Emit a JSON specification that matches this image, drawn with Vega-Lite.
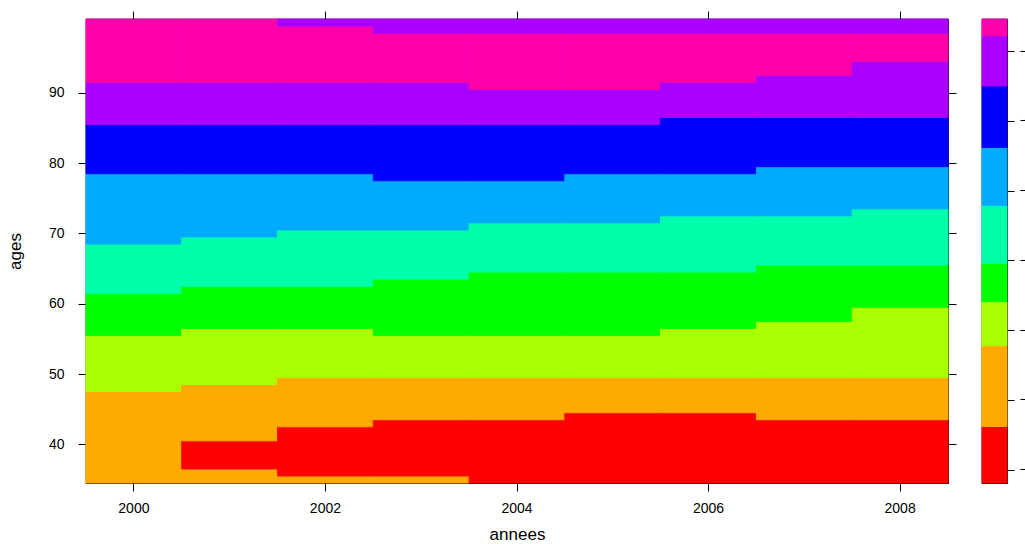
{
  "$schema": "https://vega.github.io/schema/vega-lite/v6.json",
  "padding": {"left": 5, "top": 9, "right": 0, "bottom": 0},
  "background": "white",
  "config": {
    "view": {"stroke": "#000000", "strokeWidth": 1.2},
    "axis": {
      "domain": false,
      "tickColor": "#000000",
      "tickSize": 8,
      "tickWidth": 1,
      "labelColor": "#000000",
      "labelFont": "Liberation Sans",
      "labelFontSize": 14,
      "titleFont": "Liberation Sans",
      "titleFontSize": 17,
      "titleFontWeight": "normal",
      "titleColor": "#000000",
      "grid": false
    }
  },
  "datasets": {
    "bandes": [
      {"annee": 2000, "age_debut": 34.5, "age_fin": 47.5, "niveau": 2},
      {"annee": 2000, "age_debut": 47.5, "age_fin": 55.5, "niveau": 3},
      {"annee": 2000, "age_debut": 55.5, "age_fin": 61.5, "niveau": 4},
      {"annee": 2000, "age_debut": 61.5, "age_fin": 68.5, "niveau": 5},
      {"annee": 2000, "age_debut": 68.5, "age_fin": 78.5, "niveau": 6},
      {"annee": 2000, "age_debut": 78.5, "age_fin": 85.5, "niveau": 7},
      {"annee": 2000, "age_debut": 85.5, "age_fin": 91.5, "niveau": 8},
      {"annee": 2000, "age_debut": 91.5, "age_fin": 100.5, "niveau": 9},

      {"annee": 2001, "age_debut": 34.5, "age_fin": 36.5, "niveau": 2},
      {"annee": 2001, "age_debut": 36.5, "age_fin": 40.5, "niveau": 1},
      {"annee": 2001, "age_debut": 40.5, "age_fin": 48.5, "niveau": 2},
      {"annee": 2001, "age_debut": 48.5, "age_fin": 56.5, "niveau": 3},
      {"annee": 2001, "age_debut": 56.5, "age_fin": 62.5, "niveau": 4},
      {"annee": 2001, "age_debut": 62.5, "age_fin": 69.5, "niveau": 5},
      {"annee": 2001, "age_debut": 69.5, "age_fin": 78.5, "niveau": 6},
      {"annee": 2001, "age_debut": 78.5, "age_fin": 85.5, "niveau": 7},
      {"annee": 2001, "age_debut": 85.5, "age_fin": 91.5, "niveau": 8},
      {"annee": 2001, "age_debut": 91.5, "age_fin": 100.5, "niveau": 9},

      {"annee": 2002, "age_debut": 34.5, "age_fin": 35.5, "niveau": 2},
      {"annee": 2002, "age_debut": 35.5, "age_fin": 42.5, "niveau": 1},
      {"annee": 2002, "age_debut": 42.5, "age_fin": 49.5, "niveau": 2},
      {"annee": 2002, "age_debut": 49.5, "age_fin": 56.5, "niveau": 3},
      {"annee": 2002, "age_debut": 56.5, "age_fin": 62.5, "niveau": 4},
      {"annee": 2002, "age_debut": 62.5, "age_fin": 70.5, "niveau": 5},
      {"annee": 2002, "age_debut": 70.5, "age_fin": 78.5, "niveau": 6},
      {"annee": 2002, "age_debut": 78.5, "age_fin": 85.5, "niveau": 7},
      {"annee": 2002, "age_debut": 85.5, "age_fin": 91.5, "niveau": 8},
      {"annee": 2002, "age_debut": 91.5, "age_fin": 99.5, "niveau": 9},
      {"annee": 2002, "age_debut": 99.5, "age_fin": 100.5, "niveau": 8},

      {"annee": 2003, "age_debut": 34.5, "age_fin": 35.5, "niveau": 2},
      {"annee": 2003, "age_debut": 35.5, "age_fin": 43.5, "niveau": 1},
      {"annee": 2003, "age_debut": 43.5, "age_fin": 49.5, "niveau": 2},
      {"annee": 2003, "age_debut": 49.5, "age_fin": 55.5, "niveau": 3},
      {"annee": 2003, "age_debut": 55.5, "age_fin": 63.5, "niveau": 4},
      {"annee": 2003, "age_debut": 63.5, "age_fin": 70.5, "niveau": 5},
      {"annee": 2003, "age_debut": 70.5, "age_fin": 77.5, "niveau": 6},
      {"annee": 2003, "age_debut": 77.5, "age_fin": 85.5, "niveau": 7},
      {"annee": 2003, "age_debut": 85.5, "age_fin": 91.5, "niveau": 8},
      {"annee": 2003, "age_debut": 91.5, "age_fin": 98.5, "niveau": 9},
      {"annee": 2003, "age_debut": 98.5, "age_fin": 100.5, "niveau": 8},

      {"annee": 2004, "age_debut": 34.5, "age_fin": 43.5, "niveau": 1},
      {"annee": 2004, "age_debut": 43.5, "age_fin": 49.5, "niveau": 2},
      {"annee": 2004, "age_debut": 49.5, "age_fin": 55.5, "niveau": 3},
      {"annee": 2004, "age_debut": 55.5, "age_fin": 64.5, "niveau": 4},
      {"annee": 2004, "age_debut": 64.5, "age_fin": 71.5, "niveau": 5},
      {"annee": 2004, "age_debut": 71.5, "age_fin": 77.5, "niveau": 6},
      {"annee": 2004, "age_debut": 77.5, "age_fin": 85.5, "niveau": 7},
      {"annee": 2004, "age_debut": 85.5, "age_fin": 90.5, "niveau": 8},
      {"annee": 2004, "age_debut": 90.5, "age_fin": 98.5, "niveau": 9},
      {"annee": 2004, "age_debut": 98.5, "age_fin": 100.5, "niveau": 8},

      {"annee": 2005, "age_debut": 34.5, "age_fin": 44.5, "niveau": 1},
      {"annee": 2005, "age_debut": 44.5, "age_fin": 49.5, "niveau": 2},
      {"annee": 2005, "age_debut": 49.5, "age_fin": 55.5, "niveau": 3},
      {"annee": 2005, "age_debut": 55.5, "age_fin": 64.5, "niveau": 4},
      {"annee": 2005, "age_debut": 64.5, "age_fin": 71.5, "niveau": 5},
      {"annee": 2005, "age_debut": 71.5, "age_fin": 78.5, "niveau": 6},
      {"annee": 2005, "age_debut": 78.5, "age_fin": 85.5, "niveau": 7},
      {"annee": 2005, "age_debut": 85.5, "age_fin": 90.5, "niveau": 8},
      {"annee": 2005, "age_debut": 90.5, "age_fin": 98.5, "niveau": 9},
      {"annee": 2005, "age_debut": 98.5, "age_fin": 100.5, "niveau": 8},

      {"annee": 2006, "age_debut": 34.5, "age_fin": 44.5, "niveau": 1},
      {"annee": 2006, "age_debut": 44.5, "age_fin": 49.5, "niveau": 2},
      {"annee": 2006, "age_debut": 49.5, "age_fin": 56.5, "niveau": 3},
      {"annee": 2006, "age_debut": 56.5, "age_fin": 64.5, "niveau": 4},
      {"annee": 2006, "age_debut": 64.5, "age_fin": 72.5, "niveau": 5},
      {"annee": 2006, "age_debut": 72.5, "age_fin": 78.5, "niveau": 6},
      {"annee": 2006, "age_debut": 78.5, "age_fin": 86.5, "niveau": 7},
      {"annee": 2006, "age_debut": 86.5, "age_fin": 91.5, "niveau": 8},
      {"annee": 2006, "age_debut": 91.5, "age_fin": 98.5, "niveau": 9},
      {"annee": 2006, "age_debut": 98.5, "age_fin": 100.5, "niveau": 8},

      {"annee": 2007, "age_debut": 34.5, "age_fin": 43.5, "niveau": 1},
      {"annee": 2007, "age_debut": 43.5, "age_fin": 49.5, "niveau": 2},
      {"annee": 2007, "age_debut": 49.5, "age_fin": 57.5, "niveau": 3},
      {"annee": 2007, "age_debut": 57.5, "age_fin": 65.5, "niveau": 4},
      {"annee": 2007, "age_debut": 65.5, "age_fin": 72.5, "niveau": 5},
      {"annee": 2007, "age_debut": 72.5, "age_fin": 79.5, "niveau": 6},
      {"annee": 2007, "age_debut": 79.5, "age_fin": 86.5, "niveau": 7},
      {"annee": 2007, "age_debut": 86.5, "age_fin": 92.5, "niveau": 8},
      {"annee": 2007, "age_debut": 92.5, "age_fin": 98.5, "niveau": 9},
      {"annee": 2007, "age_debut": 98.5, "age_fin": 100.5, "niveau": 8},

      {"annee": 2008, "age_debut": 34.5, "age_fin": 43.5, "niveau": 1},
      {"annee": 2008, "age_debut": 43.5, "age_fin": 49.5, "niveau": 2},
      {"annee": 2008, "age_debut": 49.5, "age_fin": 59.5, "niveau": 3},
      {"annee": 2008, "age_debut": 59.5, "age_fin": 65.5, "niveau": 4},
      {"annee": 2008, "age_debut": 65.5, "age_fin": 73.5, "niveau": 5},
      {"annee": 2008, "age_debut": 73.5, "age_fin": 79.5, "niveau": 6},
      {"annee": 2008, "age_debut": 79.5, "age_fin": 86.5, "niveau": 7},
      {"annee": 2008, "age_debut": 86.5, "age_fin": 94.5, "niveau": 8},
      {"annee": 2008, "age_debut": 94.5, "age_fin": 98.5, "niveau": 9},
      {"annee": 2008, "age_debut": 98.5, "age_fin": 100.5, "niveau": 8}
    ],
    "cle": [
      {"bas": -7.19, "haut": -6.38, "niveau": 1},
      {"bas": -6.38, "haut": -5.22, "niveau": 2},
      {"bas": -5.22, "haut": -4.59, "niveau": 3},
      {"bas": -4.59, "haut": -4.04, "niveau": 4},
      {"bas": -4.04, "haut": -3.21, "niveau": 5},
      {"bas": -3.21, "haut": -2.38, "niveau": 6},
      {"bas": -2.38, "haut": -1.50, "niveau": 7},
      {"bas": -1.50, "haut": -0.78, "niveau": 8},
      {"bas": -0.78, "haut": -0.54, "niveau": 9}
    ]
  },
  "hconcat": [
    {
      "width": 862,
      "height": 464,
      "data": {"name": "bandes"},
      "layer": [
        {
          "mark": {"type": "rect", "strokeWidth": 1},
          "encoding": {
            "x": {
              "field": "annee", "type": "ordinal",
              "scale": {"type": "band", "paddingInner": 0, "paddingOuter": 0},
              "axis": {"values": [2000, 2002, 2004, 2006, 2008], "labelAngle": 0, "labelPadding": 10, "title": "annees", "titlePadding": 11}
            },
            "y": {
              "field": "age_debut", "type": "quantitative",
              "scale": {"domain": [34.5, 100.5], "nice": false, "zero": false},
              "axis": {"values": [40, 50, 60, 70, 80, 90], "labelPadding": 14, "title": "ages", "titlePadding": 24}
            },
            "y2": {"field": "age_fin"},
            "color": {
              "field": "niveau", "type": "ordinal",
              "scale": {"domain": [1, 2, 3, 4, 5, 6, 7, 8, 9], "range": ["#FF0000", "#FFAA00", "#AAFF00", "#00FF00", "#00FFAA", "#00AAFF", "#0000FF", "#AA00FF", "#FF00AA"]},
              "legend": null
            },
            "stroke": {
              "field": "niveau", "type": "ordinal",
              "scale": {"domain": [1, 2, 3, 4, 5, 6, 7, 8, 9], "range": ["#FF0000", "#FFAA00", "#AAFF00", "#00FF00", "#00FFAA", "#00AAFF", "#0000FF", "#AA00FF", "#FF00AA"]},
              "legend": null
            }
          }
        },
        {
          "mark": {"type": "rect", "opacity": 0},
          "encoding": {
            "x": {
              "field": "annee", "type": "ordinal",
              "axis": {"orient": "top", "values": [2000, 2002, 2004, 2006, 2008], "labels": false, "title": null}
            },
            "y": {
              "field": "age_debut", "type": "quantitative",
              "axis": {"orient": "right", "values": [40, 50, 60, 70, 80, 90], "labels": false, "title": null}
            },
            "y2": {"field": "age_fin"}
          }
        }
      ],
      "resolve": {"axis": {"x": "independent", "y": "independent"}}
    },
    {
      "width": 25,
      "height": 464,
      "data": {"name": "cle"},
      "mark": {"type": "rect", "strokeWidth": 1},
      "encoding": {
        "y": {
          "field": "bas", "type": "quantitative",
          "scale": {"domain": [-7.19, -0.54], "nice": false, "zero": false},
          "axis": {"orient": "right", "values": [-7, -6, -5, -4, -3, -2, -1], "format": "d", "tickSize": 7, "labelPadding": 5, "title": null}
        },
        "y2": {"field": "haut"},
        "color": {
          "field": "niveau", "type": "ordinal",
          "scale": {"domain": [1, 2, 3, 4, 5, 6, 7, 8, 9], "range": ["#FF0000", "#FFAA00", "#AAFF00", "#00FF00", "#00FFAA", "#00AAFF", "#0000FF", "#AA00FF", "#FF00AA"]},
          "legend": null
        },
        "stroke": {
          "field": "niveau", "type": "ordinal",
          "scale": {"domain": [1, 2, 3, 4, 5, 6, 7, 8, 9], "range": ["#FF0000", "#FFAA00", "#AAFF00", "#00FF00", "#00FFAA", "#00AAFF", "#0000FF", "#AA00FF", "#FF00AA"]},
          "legend": null
        }
      }
    }
  ],
  "spacing": 22
}
